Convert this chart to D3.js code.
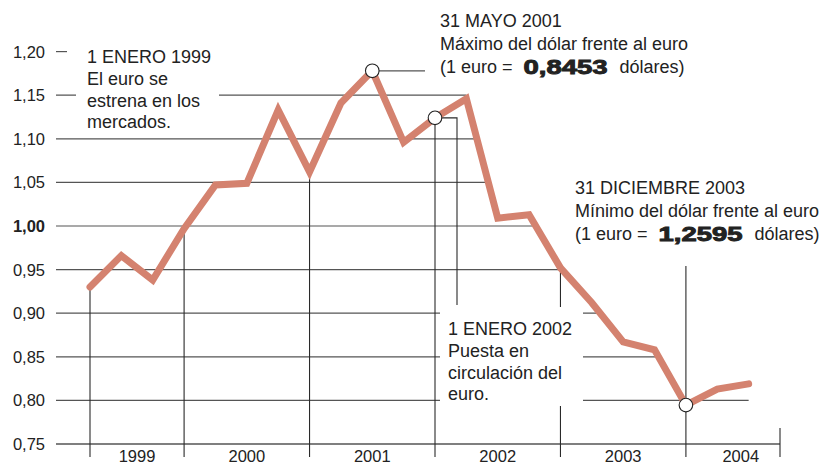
<!DOCTYPE html>
<html><head><meta charset="utf-8">
<script src="https://cdn.jsdelivr.net/npm/d3@7"></script>
<style>
html,body{margin:0;padding:0;background:#fff;}
svg{display:block;}
text{font-family:"Liberation Sans",Arial,Helvetica,sans-serif;fill:#222;}
</style></head>
<body>
<svg id="chart" width="828" height="466"></svg>
<script>
// ---- data ----
const values = [0.930,0.966,0.938,0.997,1.047,1.049,1.133,1.062,1.141,1.178,1.096,1.124,
                1.146,1.009,1.013,0.952,0.912,0.867,0.858,0.7946,0.813,0.819];
const yTicks = [0.75,0.80,0.85,0.90,0.95,1.00,1.05,1.10,1.15,1.20];
const yTickLabels = ["0,75","0,80","0,85","0,90","0,95","1,00","1,05","1,10","1,15","1,20"];
const yearBoundaries = [0,3,7,11,15,19];   // point indices where year separators start
const axisEndIndex = 22;
const years = ["1999","2000","2001","2002","2003","2004"];
const yearLabelPos = [1.5,5,9,13,17,20.75];
const maxIndex = 9, euroLaunch2002Index = 11, minIndex = 19;

const W = 828, H = 466;
const svg = d3.select("#chart");
const x = d3.scaleLinear().domain([0, axisEndIndex]).range([90, 780]);
const y = d3.scaleLinear().domain([0.75, 1.20]).range([444, 51.6]);
const axisLeft = 56, axisBottomExt = 457;

const lineCol = "#d4826f";
const gridCol = "#555";
const vCol = "#2a2a2a";
const annSize = 18, axisSize = 16.5;

// gridline end: last position where the series still reaches the level
function gridEnd(v){
  const tol = 0.005;
  let i = -1;
  for (let k = values.length-1; k >= 0; k--) if (values[k] >= v - tol){ i = k; break; }
  if (i < 0) return axisLeft + 11;
  if (i === values.length-1) return x(i);
  if (values[i] < v) return x(i);
  const t = (values[i]-v)/(values[i]-values[i+1]);
  return x(i + t);
}

const g = svg.append("g");

// horizontal gridlines
yTicks.forEach((v,k)=>{
  const end = (v === 0.75) ? x(axisEndIndex) : gridEnd(v);
  g.append("line").attr("x1",axisLeft).attr("x2",end)
    .attr("y1",y(v)).attr("y2",y(v))
    .attr("stroke",gridCol).attr("stroke-width", v===0.75?1.3:1.2);
  g.append("text").attr("x",45).attr("y",y(v)).attr("dy","0.36em")
    .attr("text-anchor","end").attr("font-size",axisSize)
    .attr("font-weight", v===1.00 ? "bold":"normal")
    .attr("fill","#222").text(yTickLabels[k]);
});

// vertical year separators
yearBoundaries.forEach(i=>{
  let top = y(values[i]);
  if (i === minIndex) top = 266;
  g.append("line").attr("x1",x(i)).attr("x2",x(i))
    .attr("y1",top).attr("y2",axisBottomExt)
    .attr("stroke",vCol).attr("stroke-width",1.1);
});
g.append("line").attr("x1",x(axisEndIndex)).attr("x2",x(axisEndIndex))
  .attr("y1",428).attr("y2",axisBottomExt).attr("stroke",vCol).attr("stroke-width",1.1);

// year labels
years.forEach((yr,k)=>{
  g.append("text").attr("x",x(yearLabelPos[k])).attr("y",462)
    .attr("text-anchor","middle").attr("font-size",axisSize).text(yr);
});

// white masks behind annotations
g.append("rect").attr("x",76).attr("y",40).attr("width",143).attr("height",90).attr("fill","#fff");
g.append("rect").attr("x",440).attr("y",307).attr("width",143).attr("height",99).attr("fill","#fff");

// leader line from 1 Jan 2002 marker
const cx11 = x(euroLaunch2002Index), cy11 = y(values[euroLaunch2002Index]);
g.append("path").attr("d",`M${cx11},${cy11}H457V305`).attr("fill","none")
  .attr("stroke",vCol).attr("stroke-width",1.1);
// leader from max
const cx9 = x(maxIndex), cy9 = y(values[maxIndex]);
g.append("line").attr("x1",cx9).attr("x2",425).attr("y1",cy9).attr("y2",cy9)
  .attr("stroke",gridCol).attr("stroke-width",1.2);

// data line
const line = d3.line().x((d,i)=>x(i)).y(d=>y(d));
g.append("path").datum(values).attr("d",line).attr("fill","none")
  .attr("stroke",lineCol).attr("stroke-width",7)
  .attr("stroke-linejoin","miter").attr("stroke-linecap","round");

// markers
[maxIndex, euroLaunch2002Index, minIndex].forEach(i=>{
  g.append("circle").attr("cx",x(i)).attr("cy",y(values[i])).attr("r",6.8)
    .attr("fill","#fff").attr("stroke","#222").attr("stroke-width",1.1);
});

// annotations
function block(x0, baselines, lines){
  lines.forEach((t,k)=>{
    g.append("text").attr("x",x0).attr("y",baselines[k]).attr("font-size",annSize).text(t);
  });
}
block(87,[63,85,107,128],["1 ENERO 1999","El euro se","estrena en los","mercados."]);
block(448,[335,357,378.5,400],["1 ENERO 2002","Puesta en","circulación del","euro."]);
block(440,[27,50],["31 MAYO 2001","Máximo del dólar frente al euro"]);
block(575,[194,217],["31 DICIEMBRE 2003","Mínimo del dólar frente al euro"]);

function valueLine(x0, base, num){
  const a = g.append("text").attr("x",x0).attr("y",base).attr("font-size",annSize).text("(1 euro =");
  const wa = a.node().getComputedTextLength();
  const bx = x0 + wa + 11;
  g.append("text").attr("x",bx).attr("y",base+1).attr("font-size",20)
    .attr("font-weight","bold").attr("stroke","#222").attr("stroke-width",0.9)
    .attr("textLength",84).attr("lengthAdjust","spacingAndGlyphs").text(num);
  g.append("text").attr("x",bx+84+12).attr("y",base).attr("font-size",annSize).text("dólares)");
}
valueLine(440,73,"0,8453");
valueLine(575,240,"1,2595");
</script>
</body></html>
